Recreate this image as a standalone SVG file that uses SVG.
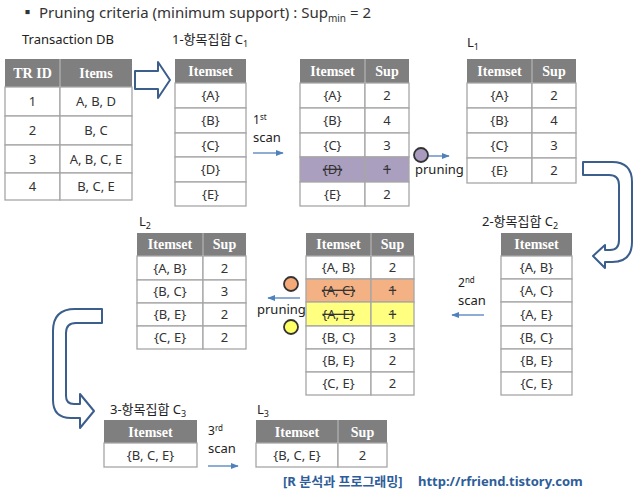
<svg xmlns="http://www.w3.org/2000/svg" width="638" height="496" viewBox="0 0 638 496">
<defs>
<style>
text{font-family:"Noto Sans","Noto Sans CJK KR",sans-serif;fill:#333;}
.t{font-size:13px;text-anchor:middle;}
.h{font-family:"Liberation Serif",serif;font-weight:bold;font-size:14px;fill:#fff;text-anchor:middle;}
.hd{fill:#7f7f7f;}
.cell{fill:#fff;stroke:#a6a6a6;stroke-width:1.3;}
.lbl{font-size:13px;fill:#222;}
.sup{font-size:12px;fill:#222;}
.sub{font-size:9px;}
.strk{text-decoration:line-through;}
.blk{fill:#fff;stroke:#3b5e8c;stroke-width:2;stroke-linejoin:round;}
.thin{stroke:#4f81bd;stroke-width:1.3;fill:none;marker-end:url(#ah);}
.dot{stroke:#333;stroke-width:1.8;}
</style>
<marker id="ah" viewBox="0 0 10 10" refX="9" refY="5" markerWidth="6" markerHeight="6" orient="auto"><path d="M0,1 L10,5 L0,9 Z" fill="#4f81bd"/></marker>
</defs>
<rect width="638" height="496" fill="#fff"/>

<g id="title">
<text x="20" y="18" font-size="15" fill="#222">▪ Pruning criteria (minimum support) : Sup<tspan font-size="10" dy="4">min</tspan><tspan dy="-4"> = 2</tspan></text>
</g>

<g id="tdb">
<text class="lbl" x="22" y="44">Transaction DB</text>
<rect class="hd" x="5" y="59" width="127" height="28"/>
<rect class="cell" x="5" y="87" width="55" height="29"/><rect class="cell" x="60" y="87" width="72" height="29"/>
<rect class="cell" x="5" y="116" width="55" height="29"/><rect class="cell" x="60" y="116" width="72" height="29"/>
<rect class="cell" x="5" y="145" width="55" height="28"/><rect class="cell" x="60" y="145" width="72" height="28"/>
<rect class="cell" x="5" y="173" width="55" height="27"/><rect class="cell" x="60" y="173" width="72" height="27"/>
<line x1="60" y1="59" x2="60" y2="87" stroke="#bfbfbf"/>
<text class="h" x="32.5" y="78">TR ID</text><text class="h" x="96" y="78">Items</text>
<text class="t" x="32.5" y="106">1</text><text class="t" x="96" y="106">A, B, D</text>
<text class="t" x="32.5" y="135">2</text><text class="t" x="96" y="135">B, C</text>
<text class="t" x="32.5" y="164">3</text><text class="t" x="96" y="164">A, B, C, E</text>
<text class="t" x="32.5" y="191">4</text><text class="t" x="96" y="191">B, C, E</text>
</g>

<g id="c1">
<text class="lbl" x="172" y="44">1-항목집합  C<tspan class="sub" dy="3">1</tspan></text>
<rect class="hd" x="175" y="59" width="71" height="24"/>
<rect class="cell" x="175" y="83" width="71" height="25"/>
<rect class="cell" x="175" y="108" width="71" height="25"/>
<rect class="cell" x="175" y="133" width="71" height="24"/>
<rect class="cell" x="175" y="157" width="71" height="25"/>
<rect class="cell" x="175" y="182" width="71" height="24"/>
<text class="h" x="210.5" y="76">Itemset</text>
<text class="t" x="210.5" y="100">{A}</text>
<text class="t" x="210.5" y="125">{B}</text>
<text class="t" x="210.5" y="150">{C}</text>
<text class="t" x="210.5" y="174">{D}</text>
<text class="t" x="210.5" y="199">{E}</text>
</g>

<g id="c1count">
<rect class="hd" x="300" y="59" width="109" height="24"/>
<rect class="cell" x="300" y="83" width="65" height="25"/><rect class="cell" x="365" y="83" width="44" height="25"/>
<rect class="cell" x="300" y="108" width="65" height="25"/><rect class="cell" x="365" y="108" width="44" height="25"/>
<rect class="cell" x="300" y="133" width="65" height="24"/><rect class="cell" x="365" y="133" width="44" height="24"/>
<rect class="cell" x="300" y="157" width="65" height="25" style="fill:#ab9fc0"/><rect class="cell" x="365" y="157" width="44" height="25" style="fill:#ab9fc0"/>
<rect class="cell" x="300" y="182" width="65" height="24"/><rect class="cell" x="365" y="182" width="44" height="24"/>
<line x1="365" y1="59" x2="365" y2="83" stroke="#bfbfbf"/>
<text class="h" x="332.5" y="76">Itemset</text><text class="h" x="387" y="76">Sup</text>
<text class="t" x="332.5" y="100">{A}</text><text class="t" x="387" y="100">2</text>
<text class="t" x="332.5" y="125">{B}</text><text class="t" x="387" y="125">4</text>
<text class="t" x="332.5" y="150">{C}</text><text class="t" x="387" y="150">3</text>
<text class="t strk" x="332.5" y="174">{D}</text><text class="t strk" x="387" y="174">1</text>
<text class="t" x="332.5" y="199">{E}</text><text class="t" x="387" y="199">2</text>
</g>

<g id="l1">
<text class="lbl" x="467" y="47">L<tspan class="sub" dy="3">1</tspan></text>
<rect class="hd" x="467" y="59" width="109" height="24"/>
<rect class="cell" x="467" y="83" width="65" height="25"/><rect class="cell" x="532" y="83" width="44" height="25"/>
<rect class="cell" x="467" y="108" width="65" height="25"/><rect class="cell" x="532" y="108" width="44" height="25"/>
<rect class="cell" x="467" y="133" width="65" height="25"/><rect class="cell" x="532" y="133" width="44" height="25"/>
<rect class="cell" x="467" y="158" width="65" height="25"/><rect class="cell" x="532" y="158" width="44" height="25"/>
<line x1="532" y1="59" x2="532" y2="83" stroke="#bfbfbf"/>
<text class="h" x="499.5" y="76">Itemset</text><text class="h" x="554" y="76">Sup</text>
<text class="t" x="499.5" y="100">{A}</text><text class="t" x="554" y="100">2</text>
<text class="t" x="499.5" y="125">{B}</text><text class="t" x="554" y="125">4</text>
<text class="t" x="499.5" y="150">{C}</text><text class="t" x="554" y="150">3</text>
<text class="t" x="499.5" y="175">{E}</text><text class="t" x="554" y="175">2</text>
</g>

<g id="c2">
<text class="lbl" x="482" y="226">2-항목집합  C<tspan class="sub" dy="3">2</tspan></text>
<rect class="hd" x="501" y="233" width="71" height="23"/>
<rect class="cell" x="501" y="256" width="71" height="23"/>
<rect class="cell" x="501" y="279" width="71" height="23"/>
<rect class="cell" x="501" y="302" width="71" height="24"/>
<rect class="cell" x="501" y="326" width="71" height="23"/>
<rect class="cell" x="501" y="349" width="71" height="23"/>
<rect class="cell" x="501" y="372" width="71" height="23"/>
<text class="h" x="536.5" y="249">Itemset</text>
<text class="t" x="536.5" y="272">{A, B}</text>
<text class="t" x="536.5" y="295">{A, C}</text>
<text class="t" x="536.5" y="319">{A, E}</text>
<text class="t" x="536.5" y="342">{B, C}</text>
<text class="t" x="536.5" y="365">{B, E}</text>
<text class="t" x="536.5" y="388">{C, E}</text>
</g>

<g id="c2count">
<rect class="hd" x="306" y="233" width="108" height="23"/>
<rect class="cell" x="306" y="256" width="65" height="23"/><rect class="cell" x="371" y="256" width="43" height="23"/>
<rect class="cell" x="306" y="279" width="65" height="23" style="fill:#f4b183"/><rect class="cell" x="371" y="279" width="43" height="23" style="fill:#f4b183"/>
<rect class="cell" x="306" y="302" width="65" height="24" style="fill:#ffff80"/><rect class="cell" x="371" y="302" width="43" height="24" style="fill:#ffff80"/>
<rect class="cell" x="306" y="326" width="65" height="23"/><rect class="cell" x="371" y="326" width="43" height="23"/>
<rect class="cell" x="306" y="349" width="65" height="23"/><rect class="cell" x="371" y="349" width="43" height="23"/>
<rect class="cell" x="306" y="372" width="65" height="23"/><rect class="cell" x="371" y="372" width="43" height="23"/>
<line x1="371" y1="233" x2="371" y2="256" stroke="#bfbfbf"/>
<text class="h" x="338.5" y="249">Itemset</text><text class="h" x="392.5" y="249">Sup</text>
<text class="t" x="338.5" y="272">{A, B}</text><text class="t" x="392.5" y="272">2</text>
<text class="t strk" x="338.5" y="295">{A, C}</text><text class="t strk" x="392.5" y="295">1</text>
<text class="t strk" x="338.5" y="319">{A, E}</text><text class="t strk" x="392.5" y="319">1</text>
<text class="t" x="338.5" y="342">{B, C}</text><text class="t" x="392.5" y="342">3</text>
<text class="t" x="338.5" y="365">{B, E}</text><text class="t" x="392.5" y="365">2</text>
<text class="t" x="338.5" y="388">{C, E}</text><text class="t" x="392.5" y="388">2</text>
</g>

<g id="l2">
<text class="lbl" x="139" y="226">L<tspan class="sub" dy="3">2</tspan></text>
<rect class="hd" x="137" y="233" width="109" height="23"/>
<rect class="cell" x="137" y="256" width="66" height="24"/><rect class="cell" x="203" y="256" width="43" height="24"/>
<rect class="cell" x="137" y="280" width="66" height="23"/><rect class="cell" x="203" y="280" width="43" height="23"/>
<rect class="cell" x="137" y="303" width="66" height="23"/><rect class="cell" x="203" y="303" width="43" height="23"/>
<rect class="cell" x="137" y="326" width="66" height="23"/><rect class="cell" x="203" y="326" width="43" height="23"/>
<line x1="203" y1="233" x2="203" y2="256" stroke="#bfbfbf"/>
<text class="h" x="170" y="249">Itemset</text><text class="h" x="224.5" y="249">Sup</text>
<text class="t" x="170" y="273">{A, B}</text><text class="t" x="224.5" y="273">2</text>
<text class="t" x="170" y="296">{B, C}</text><text class="t" x="224.5" y="296">3</text>
<text class="t" x="170" y="319">{B, E}</text><text class="t" x="224.5" y="319">2</text>
<text class="t" x="170" y="342">{C, E}</text><text class="t" x="224.5" y="342">2</text>
</g>

<g id="c3">
<text class="lbl" x="110" y="414">3-항목집합  C<tspan class="sub" dy="3">3</tspan></text>
<rect class="hd" x="104" y="420" width="93" height="23"/>
<rect class="cell" x="104" y="443" width="93" height="24"/>
<text class="h" x="150.5" y="437">Itemset</text>
<text class="t" x="150.5" y="460">{B, C, E}</text>
</g>

<g id="l3">
<text class="lbl" x="257" y="414">L<tspan class="sub" dy="3">3</tspan></text>
<rect class="hd" x="256" y="420" width="131" height="23"/>
<rect class="cell" x="256" y="443" width="82" height="24"/><rect class="cell" x="338" y="443" width="49" height="24"/>
<line x1="338" y1="420" x2="338" y2="443" stroke="#bfbfbf"/>
<text class="h" x="297" y="437">Itemset</text><text class="h" x="362.5" y="437">Sup</text>
<text class="t" x="297" y="460">{B, C, E}</text><text class="t" x="362.5" y="460">2</text>
</g>

<g id="connectors">
<path class="blk" d="M135,71 L158,71 L158,62 L170,80 L158,98 L158,89 L135,89 Z"/>
<path class="blk" d="M583,162 L612,162 Q632,162 632,182 L632,242 Q632,262 612,262 L605,262 L605,268 L593,256 L605,245 L605,250 L610,250 Q619,250 619,240 L619,185 Q619,175 609,175 L583,175 Z"/>
<path class="blk" d="M102,309 L75,309 Q53,309 53,331 L53,400 Q53,418 71,418 L80,418 L80,428 L94,411 L80,394 L80,404 L74,404 Q66,404 66,396 L66,333 Q66,323 76,323 L102,323 Z"/>
<path class="thin" d="M253,153 L283,153"/>
<path class="thin" d="M428,156 L449,156"/>
<path class="thin" d="M484,315 L452,315"/>
<path class="thin" d="M300,298 L268,298"/>
<path class="thin" d="M208,466 L238,466"/>
<circle class="dot" cx="421" cy="155" r="7" fill="#a99bbd"/>
<circle class="dot" cx="291" cy="284" r="7" fill="#f4a978"/>
<circle class="dot" cx="291" cy="327" r="7" fill="#ffff66"/>
<text class="lbl" x="415" y="174">pruning</text>
<text class="lbl" x="257" y="314">pruning</text>
<text class="sup" x="253" y="124">1<tspan font-size="8" dy="-4">st</tspan></text>
<text class="lbl" x="253" y="142">scan</text>
<text class="sup" x="458" y="287">2<tspan font-size="8" dy="-4">nd</tspan></text>
<text class="lbl" x="458" y="305">scan</text>
<text class="sup" x="208" y="435">3<tspan font-size="8" dy="-4">rd</tspan></text>
<text class="lbl" x="208" y="453">scan</text>
</g>

<g id="footer">
<text x="283" y="486" font-size="13" font-weight="bold" style="fill:#2e5d9a">[R 분석과 프로그래밍]</text>
<text x="418" y="486" font-size="13" font-weight="bold" style="fill:#2e5d9a">http://rfriend.tistory.com</text>
</g>
</svg>
